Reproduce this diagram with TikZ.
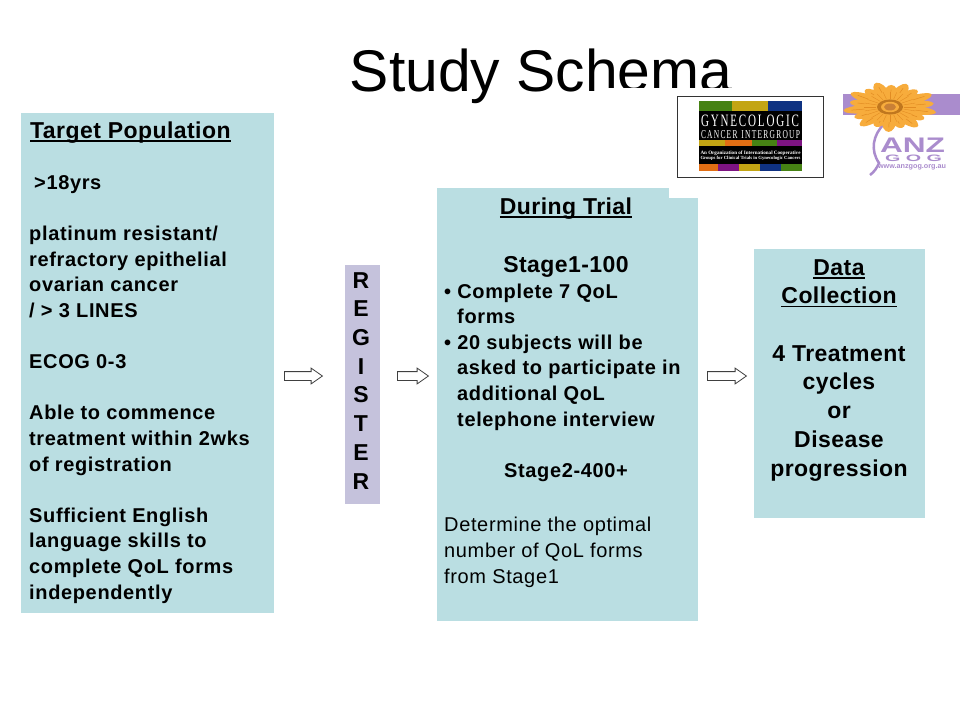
\documentclass[tikz,border=0pt]{standalone}
\usepackage{fontspec}
\setmainfont{Liberation Sans}
\newfontfamily\bodyfamily{Liberation Sans}[LetterSpace=3.2]
\newfontfamily\headfamily{Liberation Sans}[LetterSpace=1.9]
\newfontfamily\gcifamily{Liberation Serif}
\usetikzlibrary{shapes.arrows}
\definecolor{panelblue}{RGB}{186,222,226}
\definecolor{registerlilac}{RGB}{197,194,220}
\definecolor{anzpurple}{RGB}{170,140,205}
\definecolor{petalorange}{RGB}{247,172,60}
\definecolor{petaldark}{RGB}{226,140,35}
\definecolor{gcigreen}{RGB}{70,130,20}
\definecolor{gciyellow}{RGB}{195,165,20}
\definecolor{gciblue}{RGB}{15,50,130}
\definecolor{gciorange}{RGB}{225,110,20}
\definecolor{gcipurple}{RGB}{125,20,130}
\newcommand{\headline}[1]{\leavevmode\setbox0=\hbox{#1}\rlap{\rule[-3.5pt]{\wd0}{1.8pt}}\box0}
\newcommand{\bodyfont}{\bodyfamily\fontsize{20}{25.6}\selectfont\bfseries}
\newcommand{\headfont}{\headfamily\fontsize{23}{28.7}\selectfont\bfseries}
\tikzset{
  panel/.style={fill=panelblue, anchor=north west, inner sep=0pt},
  bodytext/.style={anchor=base west, align=left, inner sep=0pt, font=\bodyfont},
  headtext/.style={anchor=base, align=center, inner sep=0pt, font=\headfont},
  blockarrow/.style={single arrow, draw=black!75, fill=white, line width=0.8pt, inner sep=4pt,
    single arrow head extend=3.5pt, single arrow tip angle=70, single arrow head indent=0pt,
    minimum height=#1, anchor=west},
  gcistrip/.style={anchor=north west, inner sep=0pt, minimum height=#1},
  gcitext/.style={text=white, inner sep=0pt, anchor=base, font=\gcifamily},
  anztext/.style={text=anzpurple, inner sep=0pt, anchor=base, font=\bfseries}
}
\begin{document}
\begin{tikzpicture}[x=1pt,y=-1pt]
  \useasboundingbox (0,0) rectangle (960,720);
  \fill[white] (0,0) rectangle (960,720);
  \node (title) [anchor=base, inner sep=0pt, font=\fontsize{58.8}{70}\selectfont] at (541,91) {Study Schema};

  \node (target) [panel, minimum width=253pt, minimum height=500pt] at (21,113) {};
  \node (register) [panel, fill=registerlilac, minimum width=35pt, minimum height=239pt] at (345,265) {};
  \node (trialtab) [panel, minimum width=232pt, minimum height=30pt] at (437,188) {};
  \node (trial) [panel, minimum width=261pt, minimum height=423pt] at (437,198) {};
  \node (data) [panel, minimum width=171pt, minimum height=269pt] at (754,249) {};

  \node (targethead) [anchor=base west, inner sep=0pt, font=\headfont] at (30,138) {\headline{Target Population}};
  \node (targetbody) [bodytext] at (29,599) {
    \hspace{5pt}>18yrs\\[25.6pt]
    platinum resistant/\\
    refractory epithelial\\
    ovarian cancer\\
    / > 3 LINES\\[25.6pt]
    ECOG 0-3\\[25.6pt]
    Able to commence\\
    treatment within 2wks\\
    of registration\\[25.6pt]
    Sufficient English\\
    language skills to\\
    complete QoL forms\\
    independently};

  \node (registertext) [headtext] at (361,489) {R\\E\\G\\I\\S\\T\\E\\R};

  \node (trialhead) [headtext] at (566,214) {\headline{During Trial}};
  \node (stageone) [headtext] at (566,272) {Stage1-100};
  \node (trialbody) [bodytext] at (444,426) {
    • Complete 7 QoL\\
    \hspace{13pt}forms\\
    • 20 subjects will be\\
    \hspace{13pt}asked to participate in\\
    \hspace{13pt}additional QoL\\
    \hspace{13pt}telephone interview};
  \node (stagetwo) [headtext, font=\bodyfont] at (566,477) {Stage2-400+};
  \node (trialplain) [bodytext, font=\bodyfamily\fontsize{20}{25.6}\selectfont] at (444,583) {
    Determine the optimal\\
    number of QoL forms\\
    from Stage1};

  \node (datatext) [headtext] at (839,476) {
    \headline{Data}\\
    \headline{Collection}\\[28.7pt]
    4 Treatment\\
    cycles\\
    or\\
    Disease\\
    progression};

  \node (arrowone) [blockarrow=38pt] at (284,376) {};
  \node (arrowtwo) [blockarrow=31pt] at (397,376) {};
  \node (arrowthree) [blockarrow=39pt] at (707,376) {};

  \fill[white] (603,88) rectangle (830,96);
  \node (gcilogo) [anchor=north west, fill=white, draw=black!80, line width=1.2pt, inner sep=0pt,
    minimum width=146pt, minimum height=81pt] at (677,96) {};
  \fill[black] (699,111) rectangle (802,171);
  \node [gcistrip=10pt, fill=gcigreen, minimum width=33pt] at (699,101) {};
  \node [gcistrip=10pt, fill=gciyellow, minimum width=36pt] at (732,101) {};
  \node [gcistrip=10pt, fill=gciblue, minimum width=34pt] at (768,101) {};
  \foreach \startx/\stripw/\stripcol in {699/26/gciyellow, 725/27/gciorange, 752/25/gcigreen, 777/25/gcipurple}
    \node [gcistrip=6pt, fill=\stripcol, minimum width=\stripw pt] at (\startx,140) {};
  \foreach \startx/\stripw/\stripcol in {699/19/gciorange, 718/21/gcipurple, 739/21/gciyellow, 760/21/gciblue, 781/21/gcigreen}
    \node [gcistrip=7pt, fill=\stripcol, minimum width=\stripw pt] at (\startx,164) {};
  \node (gcione) [gcitext] at (750,126) {\resizebox{98pt}{11.5pt}{G\,Y\,N\,E\,C\,O\,L\,O\,G\,I\,C}};
  \node (gcitwo) [gcitext] at (750.5,138) {\resizebox{99pt}{8pt}{C\,A\,N\,C\,E\,R\; I\,N\,T\,E\,R\,G\,R\,O\,U\,P}};
  \node (gcithree) [gcitext] at (750.5,154) {\resizebox{100pt}{!}{\bfseries An Organization of International Cooperative}};
  \node (gcifour) [gcitext] at (750.5,159) {\resizebox{100pt}{!}{\bfseries Groups for Clinical Trials in Gynecologic Cancers}};

  \fill[anzpurple] (843,94) rectangle (960,115);
  \draw[anzpurple, line width=2.5pt] (884,124) .. controls (873,135) and (870,150) .. (879,163) .. controls (877,168) and (874,172) .. (870,175);
  \begin{scope}[shift={(890,107)}, yscale=.58]
    \foreach \petal/\plen in {8/44,28/47,48/40,68/43,88/38,108/44,128/39,148/46,168/41,188/47,208/40,228/44,248/37,268/43,288/38,308/44,328/40,348/47}{
      \fill[petalorange, rotate=\petal] (\plen/2,0) ellipse ({\plen/2} and 7.5);
      \draw[petaldark, line width=0.5pt, rotate=\petal] (15,0) -- (\plen-8,0);
    }
    \fill[petalorange] (0,0) circle (26);
    \foreach \petal in {0,15,...,345}
      \draw[petaldark, line width=0.4pt, rotate=\petal] (14,0) -- (26,0);
    \fill[petaldark!85!black] (0,0) circle (13);
    \fill[petalorange] (0,0) circle (9);
    \fill[brown!85!orange] (0,0) circle (6);
  \end{scope}
  \node (anzname) [anztext] at (912.5,152.5) {\resizebox{65pt}{14.5pt}{ANZ}};
  \node (gogname) [anztext] at (913.5,161) {\resizebox{57pt}{6.5pt}{G\;O\;G}};
  \node (anzurl) [anztext] at (912,168) {\resizebox{68pt}{!}{www.anzgog.org.au}};
\end{tikzpicture}
\end{document}
